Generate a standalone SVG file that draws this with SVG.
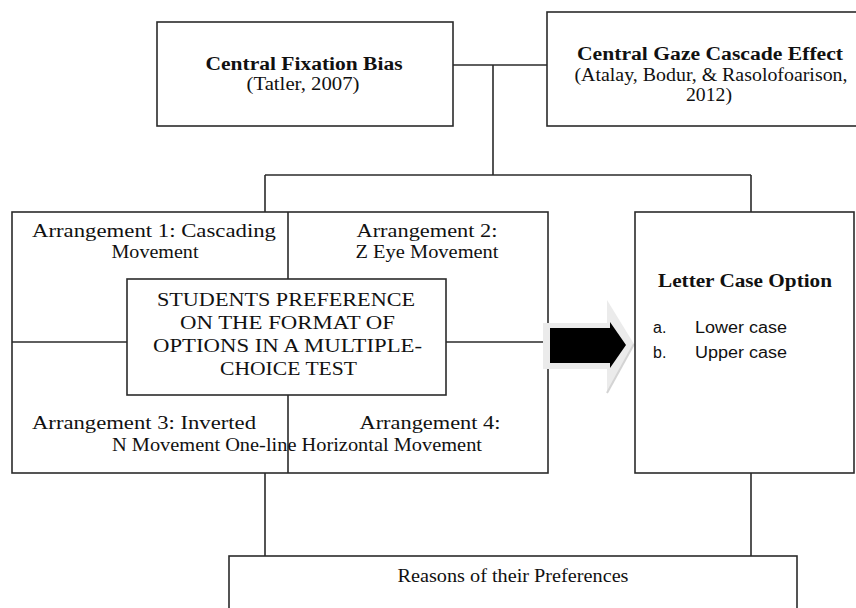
<svg xmlns="http://www.w3.org/2000/svg" width="856" height="608" viewBox="0 0 856 608">
<style>
.box{fill:#fff;stroke:#2b2b2b;stroke-width:1.6}
.ln{fill:none;stroke:#2b2b2b;stroke-width:1.6}
.t{font-family:"Liberation Serif","Times New Roman",serif;font-size:18px;fill:#111;text-anchor:middle}
.c{font-size:19px}
.b{font-weight:bold}
.s{font-family:"Liberation Sans",Arial,sans-serif;font-size:16px;fill:#111}
</style>
<rect width="856" height="608" fill="#fff"/>
<g id="connectors">
<path class="ln" d="M453,65 H547 M493,65 V175 M265,175 H751 M265,175 V212 M751,175 V212 M265,473 V556 M751,473 V556"/>
</g>
<g id="central-fixation-bias">
<rect class="box" x="157" y="22" width="296" height="104"/>
<text class="t b" x="304" y="70" textLength="197" lengthAdjust="spacingAndGlyphs">Central Fixation Bias</text>
<text class="t" x="303" y="90" textLength="113" lengthAdjust="spacingAndGlyphs">(Tatler, 2007)</text>
</g>
<g id="central-gaze-cascade">
<rect class="box" x="547" y="12" width="330" height="114"/>
<text class="t b" x="710" y="60" textLength="266" lengthAdjust="spacingAndGlyphs">Central Gaze Cascade Effect</text>
<text class="t" x="711" y="81" textLength="273" lengthAdjust="spacingAndGlyphs">(Atalay, Bodur, &amp; Rasolofoarison,</text>
<text class="t" x="709" y="101" textLength="46" lengthAdjust="spacingAndGlyphs">2012)</text>
</g>
<g id="arrangements">
<rect class="box" x="12" y="212" width="536" height="261"/>
<path class="ln" d="M288,212 V279 M288,395 V473 M12,342 H127 M446,342 H548"/>
<text class="t" x="154" y="237" textLength="244" lengthAdjust="spacingAndGlyphs">Arrangement 1: Cascading</text>
<text class="t" x="155" y="258" textLength="87" lengthAdjust="spacingAndGlyphs">Movement</text>
<text class="t" x="427" y="237" textLength="141" lengthAdjust="spacingAndGlyphs">Arrangement 2:</text>
<text class="t" x="427" y="258" textLength="143" lengthAdjust="spacingAndGlyphs">Z Eye Movement</text>
<text class="t" x="144" y="429" textLength="224" lengthAdjust="spacingAndGlyphs">Arrangement 3: Inverted</text>
<text class="t" x="430" y="429" textLength="141" lengthAdjust="spacingAndGlyphs">Arrangement 4:</text>
<text class="t" x="297" y="451" textLength="370" lengthAdjust="spacingAndGlyphs">N Movement One-line Horizontal Movement</text>
</g>
<g id="students-preference">
<rect class="box" x="127" y="279" width="319" height="116"/>
<text class="t c" x="286" y="306" textLength="258" lengthAdjust="spacingAndGlyphs">STUDENTS  PREFERENCE</text>
<text class="t c" x="287.5" y="329" textLength="215" lengthAdjust="spacingAndGlyphs">ON THE FORMAT OF</text>
<text class="t c" x="287.5" y="352" textLength="269" lengthAdjust="spacingAndGlyphs">OPTIONS  IN A MULTIPLE-</text>
<text class="t c" x="288.5" y="375" textLength="137" lengthAdjust="spacingAndGlyphs">CHOICE TEST</text>
</g>
<g id="arrow">
<polygon points="543,323 607,323 607,300 634,344 607,393 607,369 543,369" fill="#ebebeb"/>
<polyline points="607,393 634,344" fill="none" stroke="#d4d4d4" stroke-width="2"/>
<polygon points="550,328 610,328 610,322 626,345 610,368 610,363 550,363" fill="#000"/>
</g>
<g id="letter-case-option">
<rect class="box" x="635" y="212" width="219" height="261"/>
<text class="t b" x="745" y="287" textLength="174" lengthAdjust="spacingAndGlyphs">Letter Case Option</text>
<text class="s" x="653" y="333">a.</text>
<text class="s" x="695" y="333" textLength="92" lengthAdjust="spacingAndGlyphs">Lower case</text>
<text class="s" x="653" y="358">b.</text>
<text class="s" x="695" y="358" textLength="92" lengthAdjust="spacingAndGlyphs">Upper case</text>
</g>
<g id="reasons">
<rect class="box" x="229" y="556" width="568" height="80"/>
<text class="t" x="513" y="582" textLength="231" lengthAdjust="spacingAndGlyphs">Reasons of their Preferences</text>
</g>
</svg>
